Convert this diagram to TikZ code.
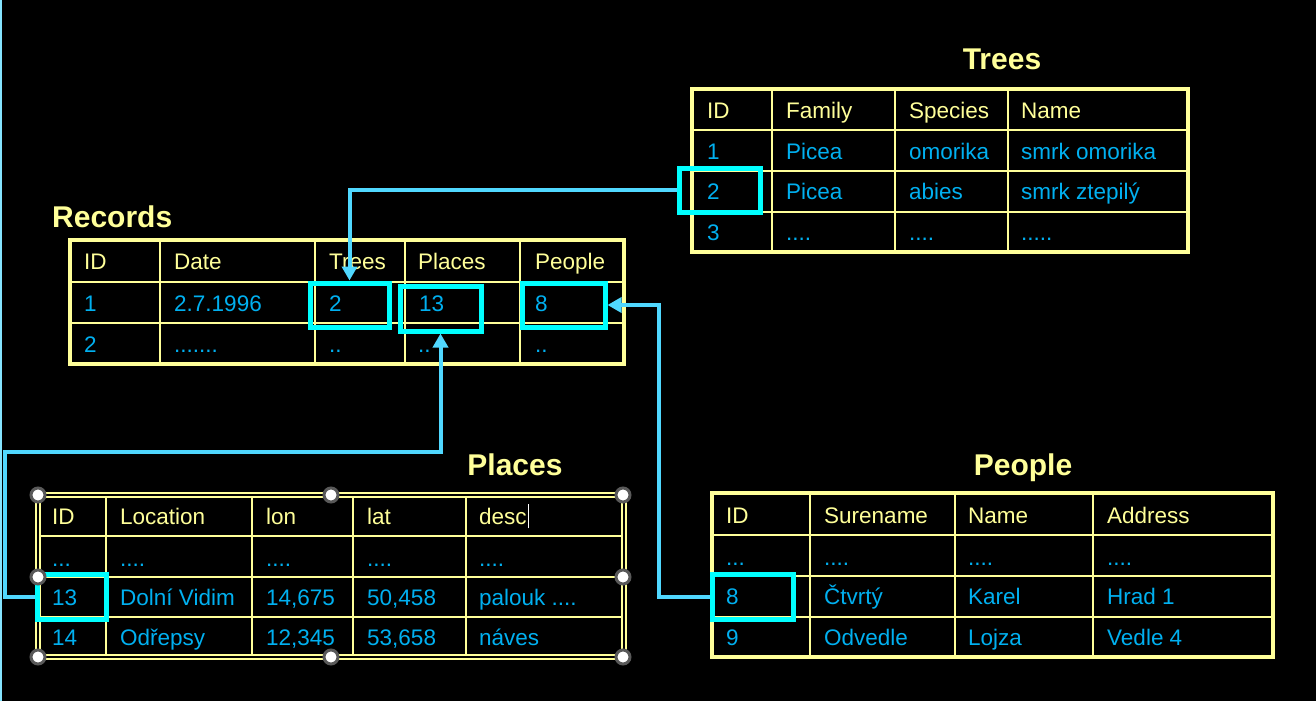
\documentclass[tikz,border=0pt]{standalone}
\usepackage{fontspec}
\setmainfont{Liberation Sans}
\usetikzlibrary{arrows.meta}
\definecolor{gridyellow}{HTML}{FFFF99}
\definecolor{valblue}{HTML}{00B0F0}
\definecolor{hlcyan}{HTML}{00FFFF}
\definecolor{linkblue}{HTML}{50D8FF}
\newcommand\dotstwo{..}
\newcommand\dotsthree{...}
\newcommand\dotsfour{....}
\newcommand\dotsfive{.....}
\newcommand\dotsseven{.......}
\tikzset{
  hdr/.style={anchor=base west, inner sep=0pt, text=gridyellow,
              font=\fontsize{22.5}{27}\selectfont},
  val/.style={hdr, text=valblue},
  tabtitle/.style={inner sep=0pt, anchor=base, text=gridyellow,
              font=\fontsize{30}{36}\selectfont\bfseries},
  gridline/.style={gridyellow, line width=1.5pt},
  tabframe/.style={gridyellow, line width=3.5pt},
  hlbox/.style={rectangle, draw=hlcyan, line width=5pt, inner sep=0pt},
  fklink/.style={linkblue, line width=4pt},
  handle/.style={circle, fill=white, draw=black!65, line width=3pt,
              minimum size=14pt, inner sep=0pt}
}

\begin{document}
\begin{tikzpicture}[x=1pt, y=-1pt, >={Triangle[length=14pt,width=15pt]}]
\fill[black] (0,0) rectangle (1316,701);
\useasboundingbox (0,0) rectangle (1316,701);
\draw[linkblue!70!white, line width=1.5pt] (1,0) -- (1,701);

% Trees
\node[tabtitle] (treeTitle) at (1002,70) {Trees};
\foreach \x in {772,895,1008} \draw[gridline] (\x,89) -- (\x,252);
\foreach \y in {130,171,212} \draw[gridline] (692,\y) -- (1188,\y);
\draw[tabframe] (692,89) rectangle (1188,252);
\foreach \x/\t [count=\i] in {707/ID,786/Family,909/Species,1021/Name}
  \node[hdr] (treeH\i) at (\x,118) {\t};
\foreach \x/\t [count=\i] in {707/1,786/Picea,909/omorika,1021/smrk omorika}
  \node[val] (treeA\i) at (\x,159) {\t};
\foreach \x/\t [count=\i] in {707/2,786/Picea,909/abies,1021/smrk ztepilý}
  \node[val] (treeB\i) at (\x,199) {\t};
\foreach \x/\t [count=\i] in {707/3,786/\dotsfour,909/\dotsfour,1021/\dotsfive}
  \node[val] (treeC\i) at (\x,240) {\t};

% Records
\node[tabtitle, anchor=base west] (recTitle) at (52,227) {Records};
\foreach \x in {160,315,405,520} \draw[gridline] (\x,240) -- (\x,364);
\foreach \y in {282,323} \draw[gridline] (70,\y) -- (624,\y);
\draw[tabframe] (70,240) rectangle (624,364);
\foreach \x/\t [count=\i] in {84/ID,174/Date,329/Trees,418/Places,535/People}
  \node[hdr] (recH\i) at (\x,269) {\t};
\foreach \x/\t [count=\i] in {84/1,174/2.7.1996,329/2,419/13,535/8}
  \node[val] (recA\i) at (\x,311) {\t};
\foreach \x/\t [count=\i] in {84/2,174/\dotsseven,329/\dotstwo,418/\dotstwo,535/\dotstwo}
  \node[val] (recB\i) at (\x,352) {\t};

% Places
\node[tabtitle] (plTitle) at (515,475) {Places};
\foreach \x in {106,252,353,466} \draw[gridline] (\x,495) -- (\x,657);
\foreach \y in {536,577,617} \draw[gridline] (38,\y) -- (624,\y);
\draw[gridyellow, double=black, double distance=2.5pt, line width=1.5pt] (38,495) rectangle (624,657);
\foreach \x/\t [count=\i] in {52/ID,120/Location,266/lon,367/lat,479/desc}
  \node[hdr] (plH\i) at (\x,524) {\t};
\foreach \x/\t [count=\i] in {52/\dotsthree,120/\dotsfour,266/\dotsfour,367/\dotsfour,479/\dotsfour}
  \node[val] (plA\i) at (\x,566) {\t};
\foreach \x/\t [count=\i] in {52/13,120/Dolní Vidim,266/{14,675},367/{50,458},479/palouk \dotsfour}
  \node[val] (plB\i) at (\x,605) {\t};
\foreach \x/\t [count=\i] in {52/14,120/Odřepsy,266/{12,345},367/{53,658},479/náves}
  \node[val] (plC\i) at (\x,645) {\t};
\draw[white, line width=0.8pt] (plH5.south east) ++(1.5,4) -- ++(0,-24);

% People
\node[tabtitle] (peTitle) at (1023,475) {People};
\foreach \x in {810,955,1093} \draw[gridline] (\x,493) -- (\x,657);
\foreach \y in {535,576,617} \draw[gridline] (712,\y) -- (1273,\y);
\draw[tabframe] (712,493) rectangle (1273,657);
\foreach \x/\t [count=\i] in {726/ID,824/Surename,968/Name,1107/Address}
  \node[hdr] (peH\i) at (\x,523) {\t};
\foreach \x/\t [count=\i] in {726/\dotsthree,824/\dotsfour,968/\dotsfour,1107/\dotsfour}
  \node[val] (peA\i) at (\x,565) {\t};
\foreach \x/\t [count=\i] in {726/8,824/Čtvrtý,968/Karel,1107/Hrad 1}
  \node[val] (peB\i) at (\x,604) {\t};
\foreach \x/\t [count=\i] in {726/9,824/Odvedle,968/Lojza,1107/Vedle 4}
  \node[val] (peC\i) at (\x,645) {\t};

% highlighted keys
\node[hlbox, minimum width=81pt, minimum height=44pt] (treeTwo) at (719.5,190) {};
\node[hlbox, minimum width=79pt, minimum height=44pt] (recTrees) at (349.5,305) {};
\node[hlbox, minimum width=81pt, minimum height=45pt] (recPlaces) at (440.5,308.5) {};
\node[hlbox, minimum width=83pt, minimum height=44pt] (recPeople) at (563.5,305) {};
\node[hlbox, minimum width=69pt, minimum height=45pt] (plThirteen) at (71.5,597) {};
\node[hlbox, minimum width=81pt, minimum height=45pt] (peEight) at (752.5,597) {};

% links
\coordinate (plTurn) at (5,452);
\coordinate (peTurn) at (659,305);
\draw[fklink, ->] (treeTwo.west) -| (recTrees.north);
\draw[fklink, ->] (plThirteen.west) -| (plTurn) -| (recPlaces.south);
\draw[fklink, ->] (peEight.west) -| (peTurn) -- (recPeople.east);

% selection handles
\foreach \p [count=\i] in {(38,495),(331,495),(623,495),(38,577),(623,577),(38,657),(331,657),(623,657)}
  \node[handle] (hd\i) at \p {};
\end{tikzpicture}
\end{document}
